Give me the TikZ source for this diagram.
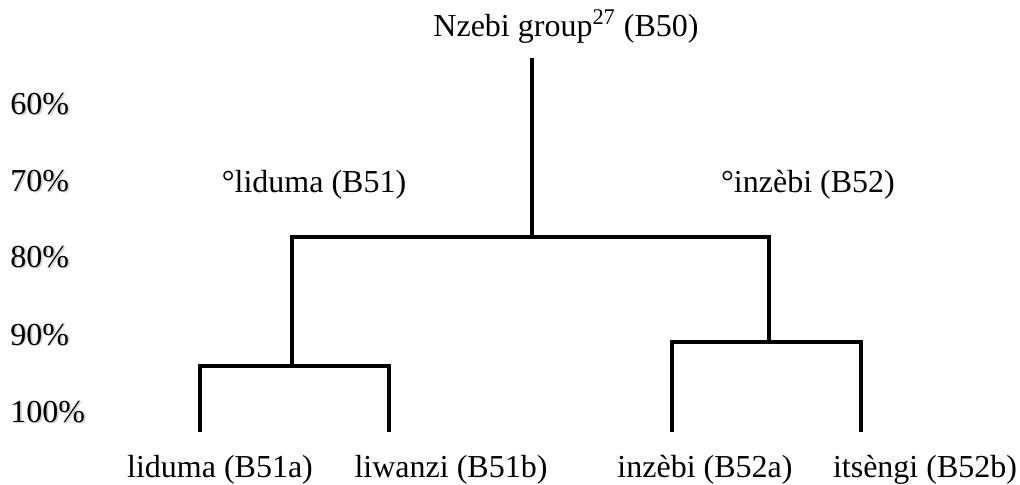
\documentclass[tikz,border=0pt]{standalone}
\usepackage{fontspec}
\setmainfont{Liberation Serif}
\newcommand{\pctshade}[1]{\rlap{\hspace{0.8pt}\raisebox{-0.5pt}{\textcolor{black!18}{#1}}}#1}
\begin{document}
\begin{tikzpicture}[x=0.5pt,y=-0.5pt,
  branch/.style={line width=1.65pt,line join=miter,line cap=rect},
  lbl/.style={inner sep=0pt,anchor=base,font=\fontsize{16}{19}\selectfont},
  pct/.style={inner sep=0pt,anchor=base west,font=\fontsize{16}{19}\selectfont}]
\useasboundingbox (0,0) rectangle (1020,485);

% percentage scale
\node[pct] (p60)  at (10,115) {\pctshade{60\%}};
\node[pct] (p70)  at (10,192) {\pctshade{70\%}};
\node[pct] (p80)  at (10,268) {\pctshade{80\%}};
\node[pct] (p90)  at (10,345) {\pctshade{90\%}};
\node[pct] (p100) at (10,422) {\pctshade{100\%}};

% group labels
\node[lbl] (root) at (566,37) {Nzebi group\textsuperscript{27} (B50)};
\node[lbl] (g51) at (314,193) {°liduma (B51)};
\node[lbl] (g52) at (808,193) {°inzèbi (B52)};

% leaves
\node[lbl] (b51a) at (220,477) {liduma (B51a)};
\node[lbl] (b51b) at (451,477) {liwanzi (B51b)};
\node[lbl] (b52a) at (705,477) {inzèbi (B52a)};
\node[lbl] (b52b) at (925,477) {itsèngi (B52b)};

% tree junctions
\coordinate (top) at (532,60);
\coordinate (j0) at (532,237);
\coordinate (jl) at (292,237);
\coordinate (jr) at (769,237);
\coordinate (kl) at (292,366);
\coordinate (kr) at (769,342);
\coordinate (kl1) at (200,366);
\coordinate (kl2) at (389,366);
\coordinate (kr1) at (672,342);
\coordinate (kr2) at (861,342);
\coordinate (e1) at (200,430);
\coordinate (e2) at (389,430);
\coordinate (e3) at (672,430);
\coordinate (e4) at (861,430);

% branches
\draw[branch] (top) -- (j0);
\draw[branch] (kl) -- (jl) -- (jr) -- (kr);
\draw[branch] (e1) -- (kl1) -- (kl2) -- (e2);
\draw[branch] (e3) -- (kr1) -- (kr2) -- (e4);
\end{tikzpicture}
\end{document}
